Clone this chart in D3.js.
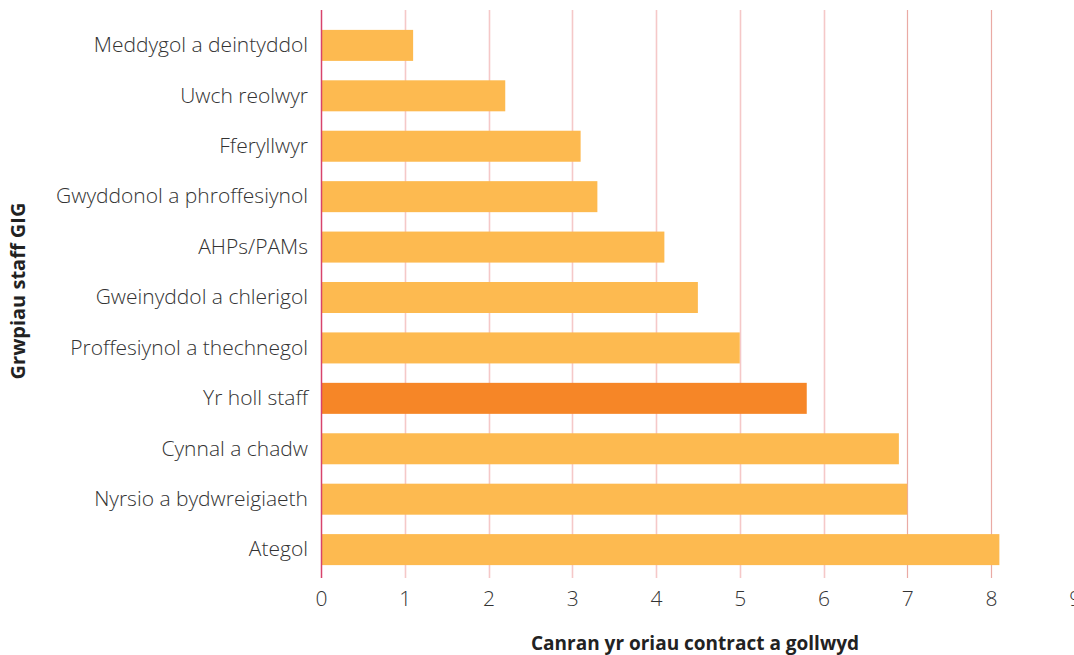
<!DOCTYPE html>
<html>
<head>
<meta charset="utf-8">
<script src="https://cdn.jsdelivr.net/npm/d3@7"></script>
<style>
  html, body { margin: 0; padding: 0; background: #fff; }
  svg { display: block; font-family: "Open Sans", sans-serif; }
</style>
</head>
<body>
<svg id="chart" width="1074" height="655"></svg>
<script>
// Staff groups, top to bottom
const categories = [
  "Meddygol a deintyddol",
  "Uwch reolwyr",
  "Fferyllwyr",
  "Gwyddonol a phroffesiynol",
  "AHPs/PAMs",
  "Gweinyddol a chlerigol",
  "Proffesiynol a thechnegol",
  "Yr holl staff",
  "Cynnal a chadw",
  "Nyrsio a bydwreigiaeth",
  "Ategol"
];
// Percentage of contracted hours lost
const values = [1.1, 2.2, 3.1, 3.3, 4.1, 4.5, 5.0, 5.8, 6.9, 7.0, 8.1];
const highlighted = ["Yr holl staff"];
const xTicks = [0, 1, 2, 3, 4, 5, 6, 7, 8, 9];
const xTitle = "Canran yr oriau contract a gollwyd";
const yTitle = "Grwpiau staff GIG";

const svg = d3.select("#chart");
const left = 321, plotTop = 10, plotBottom = 578;

const x = d3.scaleLinear().domain([0, 9]).range([left, left + 9 * 83.75]);
const y = d3.scaleBand().domain(categories).range([20.3, 574.7]).paddingInner(0.385).paddingOuter(0.19);

// Vertical gridlines
svg.append("g").selectAll("line")
  .data(xTicks.filter(d => d > 0))
  .join("line")
  .attr("x1", d => Math.round(x(d)) + 0.5).attr("x2", d => Math.round(x(d)) + 0.5)
  .attr("y1", plotTop).attr("y2", plotBottom)
  .attr("stroke", d => d >= 7 ? "#eaaaa4" : "#f5c8c8")
  .attr("stroke-width", d => d >= 7 ? 1.2 : 1.6);

// Bars
svg.append("g").selectAll("rect")
  .data(categories)
  .join("rect")
  .attr("x", x(0))
  .attr("y", d => y(d))
  .attr("width", (d, i) => x(values[i]) - x(0))
  .attr("height", y.bandwidth())
  .attr("fill", d => highlighted.includes(d) ? "#f68627" : "#fdba50");

// Baseline axis line
svg.append("line")
  .attr("x1", left + 0.5).attr("x2", left + 0.5)
  .attr("y1", plotTop).attr("y2", plotBottom)
  .attr("stroke", "#d8436b").attr("stroke-width", 1.5);

// X tick labels
const xAxis = d3.axisBottom(x).tickValues(xTicks).tickSize(0).tickPadding(0).tickFormat(d3.format("d"));
const gx = svg.append("g").attr("transform", `translate(0, ${plotBottom + 13})`).call(xAxis);
gx.select(".domain").remove();
gx.selectAll("text")
  .attr("font-size", 21).attr("font-weight", 300).attr("fill", "#333").attr("dy", "0.71em")
  .attr("font-family", "\"Open Sans\", sans-serif");

// Category labels
const yAxis = d3.axisLeft(y).tickSize(0).tickPadding(0);
const gy = svg.append("g").attr("transform", `translate(${left - 13}, 0)`).call(yAxis);
gy.select(".domain").remove();
gy.selectAll("text")
  .attr("font-size", 21).attr("font-weight", 300).attr("fill", "#333")
  .attr("font-family", "\"Open Sans\", sans-serif");

// Axis titles
svg.append("text")
  .attr("x", 695).attr("y", 650)
  .attr("text-anchor", "middle")
  .attr("font-size", 19).attr("font-weight", "bold").attr("fill", "#222")
  .text(xTitle);

svg.append("text")
  .attr("transform", "translate(25, 291) rotate(-90)")
  .attr("text-anchor", "middle")
  .attr("font-size", 20).attr("font-weight", "bold").attr("fill", "#222")
  .text(yTitle);
</script>
</body>
</html>
